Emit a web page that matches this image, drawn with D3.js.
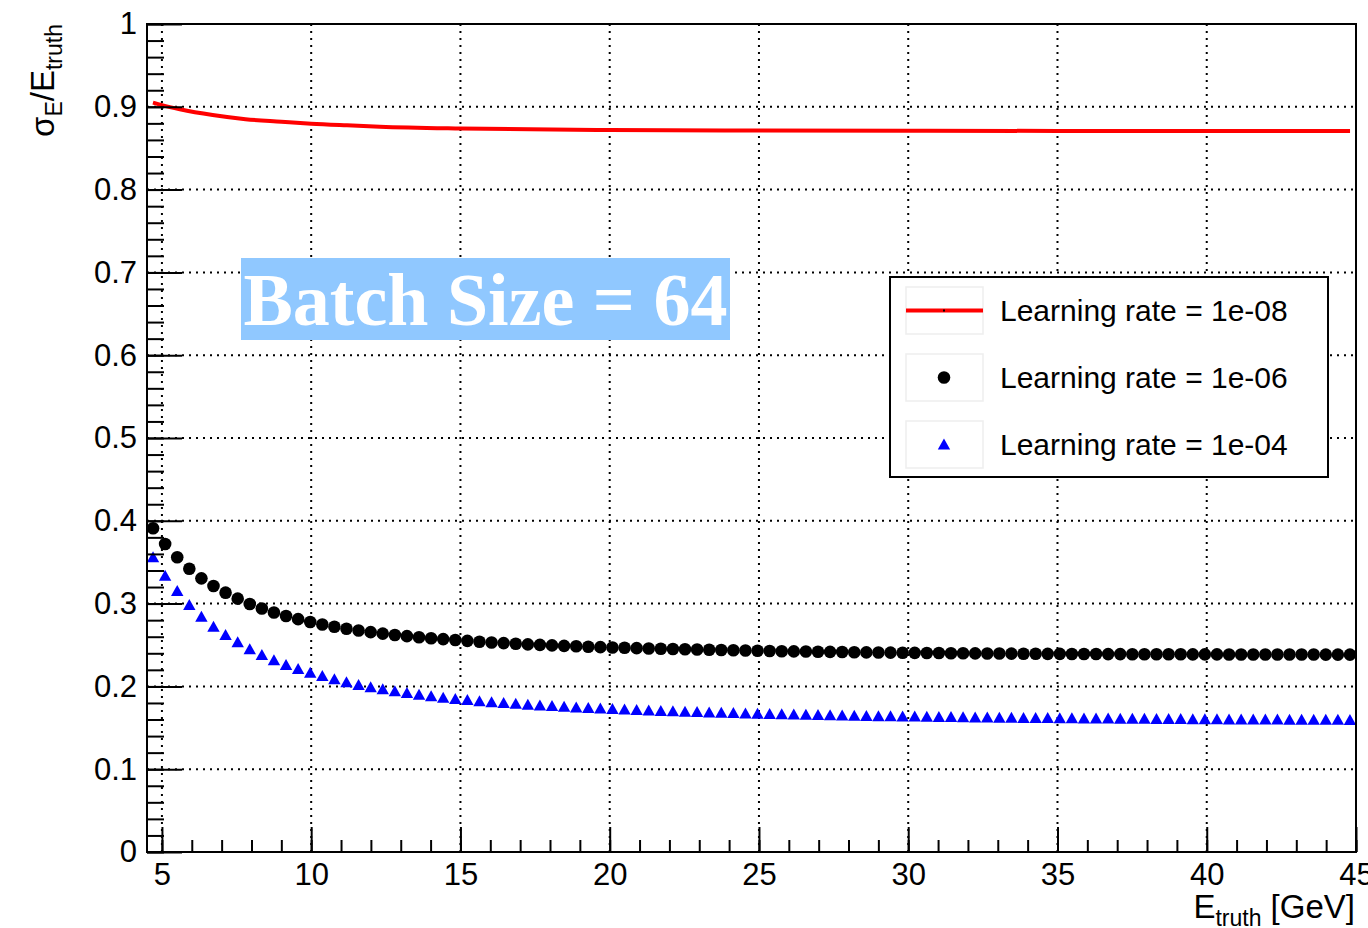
<!DOCTYPE html>
<html>
<head>
<meta charset="utf-8">
<script src="https://cdn.jsdelivr.net/npm/d3@7"></script>
<style>
  body { margin: 0; background: #fff; }
  svg { display: block; font-family: "Liberation Sans", Arial, sans-serif; }
</style>
</head>
<body>
<svg id="chart" width="1368" height="928"></svg>
<script>
// Histogram binning of E_truth (100 bins from 4.5 to 45 GeV).
const binLow = 4.5;
const binWidth = 0.405;

// sigma_E / E_truth, learning rate 1e-06 (black circles), one value per bin.
const lr1e06 = [
    0.391, 0.372, 0.356, 0.342, 0.3305, 0.3213, 0.3132, 0.306, 0.2995, 0.2940,
    0.2892, 0.2850, 0.2812, 0.2778, 0.2748, 0.2721, 0.2697, 0.2675, 0.2655, 0.2637,
    0.2621, 0.2607, 0.2594, 0.2582, 0.2571, 0.2560, 0.2550, 0.2540, 0.2531, 0.2523,
    0.2515, 0.2508, 0.2501, 0.2495, 0.2489, 0.2484, 0.2479, 0.2474, 0.2470, 0.2466,
    0.2462, 0.2458, 0.2454, 0.2451, 0.2448, 0.2445, 0.2442, 0.2439, 0.2436, 0.2433,
    0.2430, 0.2428, 0.2425, 0.2423, 0.2421, 0.2419, 0.2417, 0.2415, 0.2413, 0.2411,
    0.2410, 0.2408, 0.2407, 0.2405, 0.2404, 0.2403, 0.2401, 0.2400, 0.2399, 0.2398,
    0.2397, 0.2396, 0.2395, 0.2394, 0.2393, 0.2393, 0.2392, 0.2391, 0.2391, 0.2390,
    0.2390, 0.2389, 0.2389, 0.2388, 0.2388, 0.2388, 0.2387, 0.2387, 0.2387, 0.2386,
    0.2386, 0.2386, 0.2386, 0.2385, 0.2385, 0.2385, 0.2385, 0.2384, 0.2384, 0.2384
];

// sigma_E / E_truth, learning rate 1e-04 (blue triangles).
const lr1e04 = [
    0.356, 0.3337, 0.3152, 0.2983, 0.2842, 0.2721, 0.2621, 0.2532, 0.2450, 0.2380,
    0.2315, 0.2258, 0.2210, 0.2166, 0.2126, 0.2085, 0.2050, 0.2018, 0.1990, 0.1965,
    0.1942, 0.1920, 0.1900, 0.1881, 0.1864, 0.1849, 0.1835, 0.1822, 0.1810, 0.1799,
    0.1789, 0.1779, 0.1770, 0.1762, 0.1754, 0.1746, 0.1739, 0.1732, 0.1726, 0.1720,
    0.1714, 0.1709, 0.1704, 0.1699, 0.1694, 0.1690, 0.1686, 0.1682, 0.1678, 0.1674,
    0.1670, 0.1667, 0.1663, 0.1660, 0.1657, 0.1654, 0.1651, 0.1648, 0.1646, 0.1643,
    0.1641, 0.1639, 0.1637, 0.1635, 0.1633, 0.1631, 0.1629, 0.1627, 0.1625, 0.1624,
    0.1622, 0.1621, 0.1619, 0.1618, 0.1617, 0.1616, 0.1614, 0.1613, 0.1612, 0.1611,
    0.1610, 0.1609, 0.1608, 0.1607, 0.1606, 0.1605, 0.1604, 0.1603, 0.1602, 0.1601,
    0.1601, 0.1600, 0.1599, 0.1599, 0.1598, 0.1597, 0.1597, 0.1596, 0.1596, 0.1595
];

// Learning rate 1e-08 (red line), sampled along the curve.
const lr1e08X = [4.70, 5.0, 5.6, 6.7, 7.8, 9.0, 10.0, 11.2, 12.3, 15, 20, 25, 30, 35, 40, 44.8];
const lr1e08Y = [0.905, 0.902, 0.897, 0.890, 0.885, 0.882, 0.8796, 0.8776, 0.876, 0.8738, 0.872, 0.8714, 0.871, 0.8709, 0.8708, 0.8707];

const xTicks = [5, 10, 15, 20, 25, 30, 35, 40, 45];
const yTicks = [0, 0.1, 0.2, 0.3, 0.4, 0.5, 0.6, 0.7, 0.8, 0.9, 1];

const legendLabels = ['Learning rate = 1e-08', 'Learning rate = 1e-06', 'Learning rate = 1e-04'];
const batchLabel = 'Batch Size = 64';

// Frame in pixels.
let frame = {left: 147, right: 1356, top: 24, bottom: 852};

let svg = d3.select('#chart');

let x = d3.scaleLinear().domain([4.5, 45]).range([frame.left, frame.right]);
let y = d3.scaleLinear().domain([0, 1]).range([frame.bottom, frame.top]);

const binCenter = (i) => binLow + binWidth * (i + 0.5);

// grid
let grid = svg.append('g')
    .attr('stroke', '#000')
    .attr('stroke-width', 2)
    .attr('stroke-dasharray', '2,5');

grid.selectAll('.vgrid')
    .data(xTicks.filter(t => t < 45))
    .enter().append('line')
    .attr('x1', d => x(d)).attr('x2', d => x(d))
    .attr('y1', frame.top).attr('y2', frame.bottom);

grid.selectAll('.hgrid')
    .data(yTicks.filter(t => t > 0 && t < 1))
    .enter().append('line')
    .attr('x1', frame.left).attr('x2', frame.right)
    .attr('y1', d => y(d)).attr('y2', d => y(d));

// red line
let redData = lr1e08X.map((v, i) => [v, lr1e08Y[i]]);
svg.append('path')
    .datum(redData)
    .attr('fill', 'none')
    .attr('stroke', '#ff0000')
    .attr('stroke-width', 4)
    .attr('d', d3.line().x(d => x(d[0])).y(d => y(d[1])).curve(d3.curveMonotoneX));

// black circles
svg.append('g').selectAll('circle')
    .data(lr1e06)
    .enter().append('circle')
    .attr('cx', (d, i) => x(binCenter(i)))
    .attr('cy', d => y(d))
    .attr('r', 6.3)
    .attr('fill', '#000');

// blue triangles
const triangle = 'M0,-6L6.2,5L-6.2,5Z';
svg.append('g').selectAll('path')
    .data(lr1e04)
    .enter().append('path')
    .attr('d', triangle)
    .attr('transform', (d, i) => `translate(${x(binCenter(i))},${y(d)})`)
    .attr('fill', '#0000ff');

// axes
let yAxis = d3.axisLeft(y).tickValues(yTicks).tickSizeInner(-35).tickSizeOuter(0)
    .tickPadding(10).tickFormat(d => d3.format('')(+d.toFixed(1)));
let yMinor = d3.axisLeft(y).tickValues(d3.range(0, 51).map(i => i / 50)).tickSizeInner(-17)
    .tickSizeOuter(0).tickFormat('');
let xAxis = d3.axisBottom(x).tickValues(xTicks).tickSizeInner(-25).tickSizeOuter(0)
    .tickPadding(11).tickFormat(d3.format('d'));
let xMinor = d3.axisBottom(x).tickValues(d3.range(5, 46)).tickSizeInner(-12)
    .tickSizeOuter(0).tickFormat('');

const styleAxis = (g) => {
    g.select('.domain').remove();
    g.selectAll('line').attr('stroke', '#000').attr('stroke-width', 2);
    g.selectAll('text').attr('font-size', 31).attr('fill', '#000')
        .attr('font-family', '"Liberation Sans", Arial, sans-serif');
};

svg.append('g').attr('transform', `translate(${frame.left},0)`).call(yMinor).call(styleAxis);
svg.append('g').attr('transform', `translate(${frame.left},0)`).call(yAxis).call(styleAxis);
svg.append('g').attr('transform', `translate(0,${frame.bottom})`).call(xMinor).call(styleAxis);
svg.append('g').attr('transform', `translate(0,${frame.bottom})`).call(xAxis).call(styleAxis);

// frame
svg.append('rect')
    .attr('x', frame.left).attr('y', frame.top)
    .attr('width', frame.right - frame.left)
    .attr('height', frame.bottom - frame.top)
    .attr('fill', 'none')
    .attr('stroke', '#000')
    .attr('stroke-width', 2);

// axis titles
let xTitle = svg.append('text')
    .attr('x', 1355).attr('y', 918)
    .attr('text-anchor', 'end')
    .attr('font-size', 33);
xTitle.append('tspan').text('E');
xTitle.append('tspan').attr('dy', 8).attr('font-size', 23).text('truth');
xTitle.append('tspan').attr('dy', -8).text(' [GeV]');

let yTitle = svg.append('text')
    .attr('transform', 'translate(54,24) rotate(-90)')
    .attr('text-anchor', 'end')
    .attr('font-size', 33);
yTitle.append('tspan').text('σ');
yTitle.append('tspan').attr('dy', 8).attr('font-size', 23).text('E');
yTitle.append('tspan').attr('dy', -8).text('/E');
yTitle.append('tspan').attr('dy', 8).attr('font-size', 23).text('truth');

// batch size label
svg.append('rect')
    .attr('x', 241).attr('y', 258)
    .attr('width', 489).attr('height', 82)
    .attr('fill', '#90c8ff');
svg.append('text')
    .attr('x', 485.5).attr('y', 325)
    .attr('text-anchor', 'middle')
    .attr('font-family', '"Liberation Serif", "Times New Roman", serif')
    .attr('font-weight', 'bold')
    .attr('font-size', 74)
    .attr('fill', '#fff')
    .text(batchLabel);

// legend
let legend = svg.append('g');
legend.append('rect')
    .attr('x', 890).attr('y', 277)
    .attr('width', 438).attr('height', 200)
    .attr('fill', '#fff')
    .attr('stroke', '#000')
    .attr('stroke-width', 2);

let rowTop = [287, 354, 421];
legendLabels.forEach((label, i) => {
    let cy = rowTop[i] + 23.5;
    legend.append('rect')
        .attr('x', 906).attr('y', rowTop[i])
        .attr('width', 77).attr('height', 47)
        .attr('fill', 'none')
        .attr('stroke', '#eeeeee')
        .attr('stroke-width', 1.5);
    legend.append('text')
        .attr('x', 1000).attr('y', cy + 10)
        .attr('font-size', 30)
        .attr('fill', '#000')
        .text(label);
    if (i === 0) {
        legend.append('line')
            .attr('x1', 906).attr('x2', 983)
            .attr('y1', cy).attr('y2', cy)
            .attr('stroke', '#ff0000').attr('stroke-width', 4);
        legend.append('rect')
            .attr('x', 943).attr('y', cy - 1).attr('width', 2).attr('height', 2)
            .attr('fill', '#000');
    } else if (i === 1) {
        legend.append('circle')
            .attr('cx', 944).attr('cy', cy).attr('r', 6.3).attr('fill', '#000');
    } else {
        legend.append('path')
            .attr('d', triangle)
            .attr('transform', `translate(944,${cy})`)
            .attr('fill', '#0000ff');
    }
});
</script>
</body>
</html>
